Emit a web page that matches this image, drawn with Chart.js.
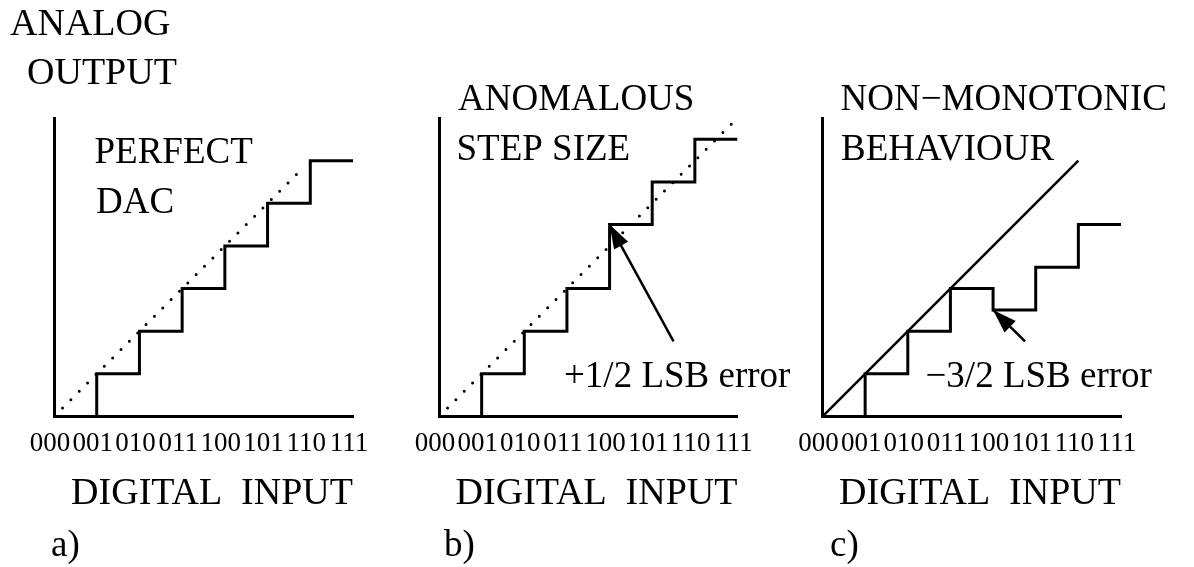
<!DOCTYPE html>
<html><head><meta charset="utf-8">
<script src="https://cdn.jsdelivr.net/npm/chart.js@4"></script>
<style>
html,body{margin:0;padding:0;background:#fff;}
#wrap{position:relative;width:1194px;height:567px;background:#fff;}
canvas{position:absolute;left:0;top:0;}
</style></head><body>
<div id="wrap">
<canvas id="ca" width="1194" height="567"></canvas>
<canvas id="cb" width="1194" height="567"></canvas>
<canvas id="cc" width="1194" height="567"></canvas>
</div>
<script>
// ---- data ----
const codeLabels = ['000','001','010','011','100','101','110','111'];
const codes   = [0, 1, 2, 3, 4, 5, 6];
const levelsA = [0, 1, 2, 3, 4, 5, 6];
const levelsB = [0, 1, 2, 3, 4.5, 5.5, 6.5];
const levelsC = [0, 1, 2, 3, 2.5, 3.5, 4.5];
const idealA  = [0.2, 5.86];
const idealB  = [0.2, 6.93];
const idealC  = [0, 6];
const arrowB  = [[5.5, 1.76], [4, 4.5]];
const arrowC  = [[4.75, 1.76], [4, 2.5]];
const xTitle  = 'DIGITAL  INPUT';
const yTitle  = ['ANALOG', 'OUTPUT'];
const notesA  = ['PERFECT', 'DAC'];
const notesB  = ['ANOMALOUS', 'STEP SIZE'];
const notesC  = ['NON\u2212MONOTONIC', 'BEHAVIOUR'];
const errB    = '+1/2 LSB error';
const errC    = '\u22123/2 LSB error';

const FONT = '"Liberation Serif", "Times New Roman", serif';
const W = 1194, H = 567;

const textPlugin = {
  id: 'texts',
  afterDraw(chart, args, opts) {
    const ctx = chart.ctx;
    (opts.items || []).forEach(t => {
      ctx.save();
      ctx.font = (t.size || 37) + 'px ' + FONT;
      ctx.fillStyle = '#000';
      ctx.textBaseline = 'alphabetic';
      ctx.textAlign = 'left';
      ctx.fillText(t.text, t.x, t.y);
      ctx.restore();
    });
  }
};

const arrowPlugin = {
  id: 'arrowHeads',
  afterDatasetsDraw(chart) {
    const ctx = chart.ctx;
    chart.data.datasets.forEach((ds, i) => {
      if (!ds.arrowHead) return;
      const pts = chart.getDatasetMeta(i).data;
      const a = pts[pts.length - 2], b = pts[pts.length - 1];
      const ang = Math.atan2(b.y - a.y, b.x - a.x);
      const L = 24, hw = 8;
      ctx.save();
      ctx.fillStyle = '#000';
      ctx.beginPath();
      ctx.moveTo(b.x, b.y);
      ctx.lineTo(b.x - L * Math.cos(ang) + hw * Math.sin(ang), b.y - L * Math.sin(ang) - hw * Math.cos(ang));
      ctx.lineTo(b.x - L * Math.cos(ang) - hw * Math.sin(ang), b.y - L * Math.sin(ang) + hw * Math.cos(ang));
      ctx.closePath();
      ctx.fill();
      ctx.restore();
    });
  }
};

function makePanel(id, area, levels, ideal, dotted, arrow, texts) {
  const steps = codes.map((c, i) => ({x: c, y: levels[i]}));
  steps.push({x: codeLabels.length - 1, y: levels[levels.length - 1]});
  const datasets = [
    {data: steps, stepped: 'before', borderColor: '#000', borderWidth: 3,
     pointRadius: 0, fill: false, borderJoinStyle: 'miter'},
    {data: [{x: ideal[0], y: ideal[0]}, {x: ideal[1], y: ideal[1]}],
     borderColor: '#000', borderWidth: dotted ? 3 : 2.5, pointRadius: 0, fill: false,
     borderDash: dotted ? [0, 11.8] : [], borderCapStyle: dotted ? 'round' : 'butt'}
  ];
  if (arrow) {
    datasets.push({data: arrow.map(p => ({x: p[0], y: p[1]})), borderColor: '#000',
      borderWidth: 2.5, pointRadius: 0, fill: false, arrowHead: true});
  }
  return new Chart(document.getElementById(id), {
    type: 'line',
    data: {datasets},
    options: {
      responsive: false, animation: false, devicePixelRatio: 1,
      layout: {padding: {left: area.left, right: W - area.right, top: area.top, bottom: 0}},
      plugins: {legend: {display: false}, tooltip: {enabled: false}, texts: {items: texts}},
      scales: {
        x: {
          type: 'linear', min: 0, max: 7,
          grid: {display: false, drawTicks: false},
          border: {display: true, color: '#000', width: 3},
          ticks: {stepSize: 1, autoSkip: false, maxRotation: 0, color: '#000',
            font: {family: FONT, size: 27}, padding: 11, labelOffset: -4,
            callback: v => codeLabels[v]},
          title: {display: true, text: xTitle, align: 'end', color: '#000',
            font: {family: FONT, size: 38}, padding: {top: 0, bottom: 50}},
          afterFit: s => { s.height = H - area.bottom; }
        },
        y: {
          type: 'linear', min: 0, max: 7,
          grid: {display: false, drawTicks: false},
          border: {display: true, color: '#000', width: 3},
          ticks: {display: false},
          afterFit: s => { s.width = 0; }
        }
      }
    },
    plugins: [textPlugin, arrowPlugin]
  });
}

makePanel('ca', {left: 54, right: 353, top: 118, bottom: 416.5}, levelsA, idealA, true, null, [
  {text: yTitle[0], x: 10, y: 35, size: 38},
  {text: yTitle[1], x: 27, y: 83.5, size: 38},
  {text: notesA[0], x: 94.5, y: 163},
  {text: notesA[1], x: 96, y: 213},
  {text: 'a)', x: 51, y: 556}
]);
makePanel('cb', {left: 439, right: 737.5, top: 118, bottom: 416.5}, levelsB, idealB, true, arrowB, [
  {text: notesB[0], x: 458, y: 110},
  {text: notesB[1], x: 456.5, y: 160},
  {text: errB, x: 564, y: 386.7},
  {text: 'b)', x: 444, y: 556}
]);
makePanel('cc', {left: 822.5, right: 1121, top: 118, bottom: 416.5}, levelsC, idealC, false, arrowC, [
  {text: notesC[0], x: 840.5, y: 110},
  {text: notesC[1], x: 841, y: 160},
  {text: errC, x: 925.5, y: 386.7},
  {text: 'c)', x: 830, y: 556}
]);
</script>
</body></html>
